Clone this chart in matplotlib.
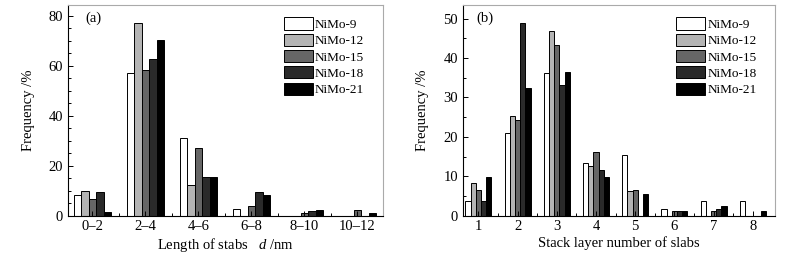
import numpy as np
import matplotlib
matplotlib.use("Agg")
import matplotlib.pyplot as plt
from matplotlib.ticker import MultipleLocator, FixedLocator

plt.rcParams["font.family"] = ["Liberation Serif", "DejaVu Serif"]
plt.rcParams["mathtext.fontset"] = "custom"
plt.rcParams["mathtext.it"] = "Liberation Serif:italic"
plt.rcParams["mathtext.rm"] = "Liberation Serif"

series = ["NiMo-9", "NiMo-12", "NiMo-15", "NiMo-18", "NiMo-21"]
colors = ["#ffffff", "#b4b4b4", "#666666", "#2a2a2a", "#000000"]

# panel (a): length of slabs
length_bins = ["0–2", "2–4", "4–6", "6–8", "8–10", "10–12"]
length_freq = {
    "NiMo-9":  [8.4, 57.0, 31.2, 2.6, 0.0, 0.0],
    "NiMo-12": [10.1, 77.0, 12.3, 0.0, 0.0, 0.0],
    "NiMo-15": [6.6, 58.3, 27.0, 3.8, 1.2, 2.5],
    "NiMo-18": [9.6, 62.6, 15.6, 9.6, 1.8, 0.0],
    "NiMo-21": [1.4, 70.3, 15.4, 8.3, 2.5, 1.2],
}

# panel (b): stack layer number
layers = [1, 2, 3, 4, 5, 6, 7, 8]
layer_freq = {
    "NiMo-9":  [3.8, 21.0, 36.3, 13.3, 15.4, 1.8, 3.8, 3.8],
    "NiMo-12": [8.4, 25.4, 46.8, 12.7, 6.3, 0.0, 0.0, 0.0],
    "NiMo-15": [6.6, 24.2, 43.2, 16.1, 6.6, 1.2, 1.2, 0.0],
    "NiMo-18": [3.8, 48.9, 33.2, 11.6, 0.0, 1.2, 1.8, 0.0],
    "NiMo-21": [9.8, 32.4, 36.5, 9.8, 5.5, 1.3, 2.6, 1.3],
}

fs = 10.5
fig = plt.figure(figsize=(7.91, 2.54), dpi=100)
ax1 = fig.add_axes([0.086, 0.150, 0.398, 0.830])
ax2 = fig.add_axes([0.585, 0.150, 0.395, 0.830])


def draw_panel(ax, x, data, width):
    for i, name in enumerate(series):
        ax.bar(x + (i - 2) * width, data[name], width, color=colors[i],
               edgecolor="black", linewidth=0.7, label=name)
    ax.tick_params(which="both", direction="in", labelsize=fs)
    ax.tick_params(which="major", length=3.5, width=0.7)
    ax.tick_params(which="minor", length=2, width=0.7)
    ax.spines["top"].set_color("#aaaaaa")
    ax.spines["right"].set_color("#aaaaaa")
    ax.spines["left"].set_linewidth(0.8)
    ax.spines["bottom"].set_linewidth(0.8)
    ax.set_ylabel("Frequency /%", fontsize=fs, labelpad=10)
    ax.yaxis.set_minor_locator(MultipleLocator(5))
    ax.xaxis.set_minor_locator(FixedLocator(x[:-1] + 0.5 * (x[1] - x[0])))
    ax.tick_params(axis="x", which="major", pad=3)
    ax.legend(loc="upper right", bbox_to_anchor=(0.97, 0.985), frameon=False,
              fontsize=9.5, handlelength=2.2, handleheight=1.05,
              handletextpad=0.15, labelspacing=0.2, borderpad=0.2)


xa = np.arange(len(length_bins))
draw_panel(ax1, xa, length_freq, 0.142)
ax1.set_xticks(xa)
ax1.set_xticklabels(length_bins)
ax1.set_xlim(-0.46, 5.48)
ax1.set_ylim(0, 84.3)
ax1.set_yticks([0, 20, 40, 60, 80])
ax1.set_xlabel("Length of stabs   $\\it{d}$ /nm", fontsize=fs, labelpad=2)
ax1.text(0.055, 0.92, "(a)", transform=ax1.transAxes, fontsize=fs)

xb = np.array(layers)
draw_panel(ax2, xb, layer_freq, 0.132)
ax2.set_xticks(xb)
ax2.set_xlim(0.6, 8.57)
ax2.set_ylim(0, 53.4)
ax2.set_yticks([0, 10, 20, 30, 40, 50])
ax2.set_xlabel("Stack layer number of slabs", fontsize=fs, labelpad=2)
ax2.text(0.045, 0.92, "(b)", transform=ax2.transAxes, fontsize=fs)

fig.savefig("out.png", dpi=100)
